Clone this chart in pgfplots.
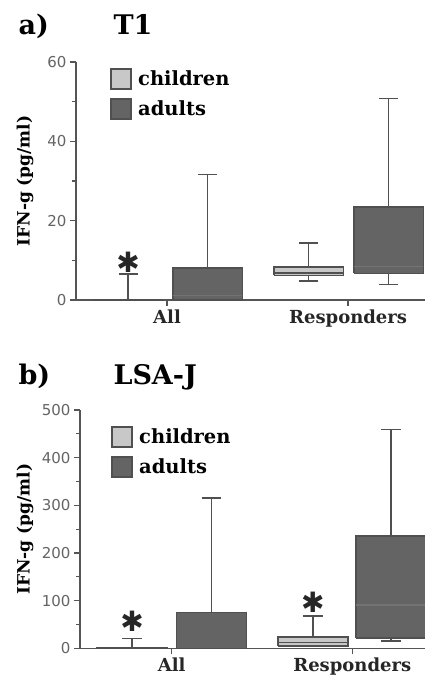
\documentclass[border=0pt]{standalone}
\usepackage{fontspec}
\setmainfont{DejaVu Serif}
\newfontfamily\tickfont{DejaVu Sans}
\newfontfamily\symfont{DejaVu Sans}
\usepackage{pgfplots}
\pgfplotsset{compat=1.18}
\definecolor{childfill}{RGB}{200,200,200}
\definecolor{adultfill}{RGB}{100,100,100}
\definecolor{edgec}{RGB}{80,80,80}
\definecolor{axgray}{RGB}{85,85,85}
\definecolor{ticktext}{RGB}{100,100,100}
\tikzset{
  ylab/.style={anchor=center, rotate=90, font=\bfseries\fontsize{17bp}{19bp}\selectfont},
  astx/.style={font=\symfont\fontsize{28bp}{30bp}\selectfont, text=black!85},
}
\pgfplotsset{
  myaxis/.style={
    scale only axis,
    axis lines*=left,
    ymin=0,
    xtick={0,1}, xticklabels={All,Responders},
    tick align=outside, major tick length=6bp, minor tick length=4bp,
    axis line style={axgray, line width=1.5bp},
    every tick/.style={axgray, line width=1.2bp},
    /pgf/number format/assume math mode=true,
    yticklabel style={font=\tickfont\fontsize{15bp}{17bp}\selectfont, text=ticktext},
    xticklabel style={font=\bfseries\fontsize{18bp}{21bp}\selectfont, text=black!85},
    ylabel={IFN-g (pg/ml)},
    legend image code/.code={\draw[#1] (0bp,-10bp) rectangle (20bp,10bp);},
    legend style={draw=none, fill=none, inner sep=0pt, anchor=north west,
      font=\bfseries\fontsize{19.5bp}{22bp}\selectfont, row sep=8.5bp,
      nodes={inner xsep=6.5bp, inner ysep=0pt}},
    legend cell align=left,
    clip=false,
  },
  whisk/.style={draw=edgec, line width=1.5bp, mark=none, forget plot},
  cbox/.style={fill=childfill, draw=edgec, line width=1.5bp, mark=none, forget plot, line join=miter},
  abox/.style={fill=adultfill, draw=edgec, line width=1.5bp, mark=none, forget plot, line join=miter},
  cmed/.style={draw=edgec, line width=1.2bp, mark=none, forget plot},
  amed/.style={draw=black!55, line width=1.2bp, mark=none, forget plot},
}
\begin{document}
\begin{tikzpicture}
\useasboundingbox (0,0) rectangle (425bp,675bp);
\node[anchor=base west, font=\bfseries\fontsize{27bp}{30bp}\selectfont] at (15bp,640bp) {a)};
\node[anchor=base west, font=\bfseries\fontsize{27bp}{30bp}\selectfont] at (110bp,640bp) {T1};
\node[anchor=base west, font=\bfseries\fontsize{27bp}{30bp}\selectfont] at (15bp,290bp) {b)};
\node[anchor=base west, font=\bfseries\fontsize{27bp}{30bp}\selectfont] at (110bp,290bp) {LSA-J};

% ---------------- panel a: T1 ----------------
\begin{axis}[myaxis, at={(76bp,375bp)}, anchor=south west,
  width=349bp, height=238bp,
  xmin=-0.503, xmax=1.425, ymax=60,
  ytick={0,20,40,60}, minor ytick={10,30,50},
  every axis y label/.style={at={(axis description cs:-0.146,0.5)}, ylab},
  legend style={at={(axis description cs:0.0974,0.975)}},
]
% children, All: min 0, q1 0, median 0, q3 0, max 6.6
\addplot[whisk] coordinates {(-0.215,0) (-0.215,6.6)};
\addplot[whisk] coordinates {(-0.2675,6.6) (-0.1625,6.6)};
\addplot[cbox] coordinates {(-0.4075,0) (-0.0225,0)};
% adults, All: min 0, q1 0, median 1.1, q3 8.1, max 31.7
\addplot[whisk] coordinates {(0.224,8.1) (0.224,31.7)};
\addplot[whisk] coordinates {(0.1715,31.7) (0.2765,31.7)};
\addplot[abox] coordinates {(0.0315,0) (0.4165,0) (0.4165,8.1) (0.0315,8.1) (0.0315,0)};
\addplot[amed] coordinates {(0.0315,1.1) (0.4165,1.1)};
% children, Responders: min 4.8, q1 6.2, median 6.8, q3 8.3, max 14.4
\addplot[whisk] coordinates {(0.782,4.8) (0.782,14.4)};
\addplot[whisk] coordinates {(0.7295,14.4) (0.8345,14.4)};
\addplot[whisk] coordinates {(0.7295,4.8) (0.8345,4.8)};
\addplot[cbox] coordinates {(0.5895,6.2) (0.9745,6.2) (0.9745,8.3) (0.5895,8.3) (0.5895,6.2)};
\addplot[cmed] coordinates {(0.5895,6.8) (0.9745,6.8)};
% adults, Responders: min 3.9, q1 6.7, median 8.4, q3 23.5, max 50.8
\addplot[whisk] coordinates {(1.224,3.9) (1.224,50.8)};
\addplot[whisk] coordinates {(1.1715,50.8) (1.2765,50.8)};
\addplot[whisk] coordinates {(1.1715,3.9) (1.2765,3.9)};
\addplot[abox] coordinates {(1.0315,6.7) (1.4165,6.7) (1.4165,23.5) (1.0315,23.5) (1.0315,6.7)};
\addplot[amed] coordinates {(1.0315,8.4) (1.4165,8.4)};
\addlegendimage{fill=childfill, draw=edgec, line width=1.5bp}
\addlegendentry{children}
\addlegendimage{fill=adultfill, draw=edgec, line width=1.5bp}
\addlegendentry{adults}
\node[astx] at (axis cs:-0.215,9.4) {✱};
\end{axis}

% ---------------- panel b: LSA-J ----------------
\begin{axis}[myaxis, at={(80bp,26.7bp)}, anchor=south west,
  width=345bp, height=238.3bp,
  xmin=-0.508, xmax=1.403, ymax=500,
  ytick={0,100,200,300,400,500}, minor ytick={50,150,250,350,450},
  every axis y label/.style={at={(axis description cs:-0.159,0.5)}, ylab},
  legend style={at={(axis description cs:0.0899,0.933)}},
]
% children, All: min 0, q1 0, median 1, q3 2, max 21
\addplot[whisk] coordinates {(-0.22,0) (-0.22,21)};
\addplot[whisk] coordinates {(-0.275,21) (-0.165,21)};
\addplot[cbox] coordinates {(-0.414,0) (-0.026,0) (-0.026,2) (-0.414,2) (-0.414,0)};
% adults, All: min 0, q1 0, median 0, q3 75.5, max 315
\addplot[whisk] coordinates {(0.22,75.5) (0.22,315)};
\addplot[whisk] coordinates {(0.165,315) (0.275,315)};
\addplot[abox] coordinates {(0.026,0) (0.414,0) (0.414,75.5) (0.026,75.5) (0.026,0)};
% children, Responders: min 5, q1 5, median 12.6, q3 24, max 68
\addplot[whisk] coordinates {(0.782,5) (0.782,68)};
\addplot[whisk] coordinates {(0.727,68) (0.837,68)};
\addplot[cbox] coordinates {(0.588,5) (0.976,5) (0.976,24) (0.588,24) (0.588,5)};
\addplot[cmed] coordinates {(0.588,12.6) (0.976,12.6)};
% adults, Responders: min 15, q1 22, median 91, q3 236, max 459
\addplot[whisk] coordinates {(1.214,15) (1.214,459)};
\addplot[whisk] coordinates {(1.159,459) (1.269,459)};
\addplot[whisk] coordinates {(1.159,15) (1.269,15)};
\addplot[abox] coordinates {(1.02,22) (1.408,22) (1.408,236) (1.02,236) (1.02,22)};
\addplot[amed] coordinates {(1.02,91) (1.408,91)};
\addlegendimage{fill=childfill, draw=edgec, line width=1.5bp}
\addlegendentry{children}
\addlegendimage{fill=adultfill, draw=edgec, line width=1.5bp}
\addlegendentry{adults}
\node[astx] at (axis cs:-0.22,57) {✱};
\node[astx] at (axis cs:0.782,96) {✱};
\end{axis}
\end{tikzpicture}
\end{document}
